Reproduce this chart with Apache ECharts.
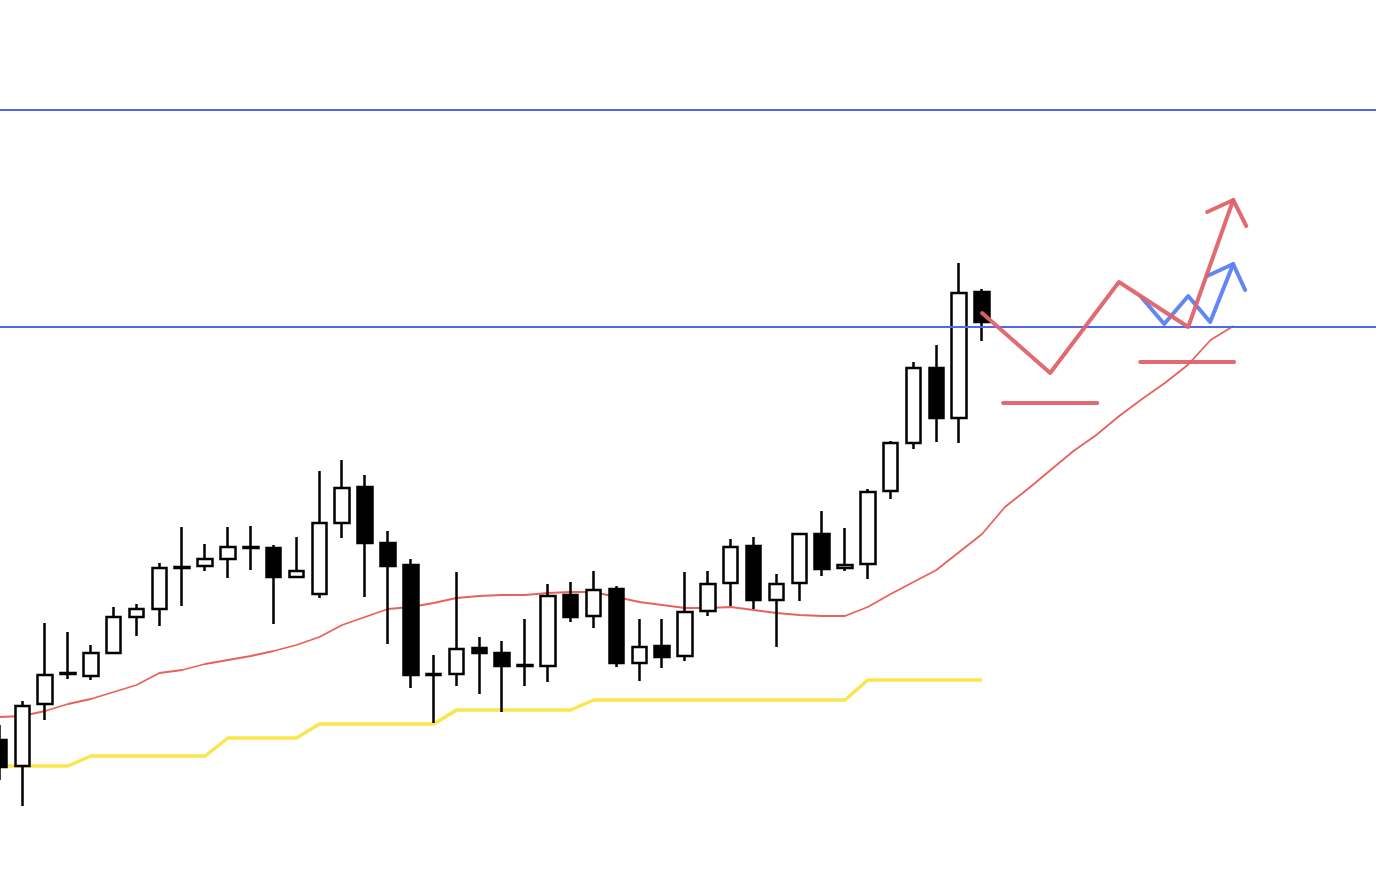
<!DOCTYPE html>
<html>
<head>
<meta charset="utf-8">
<script src="https://cdn.jsdelivr.net/npm/echarts@6/dist/echarts.min.js"></script>
<style>
html,body{margin:0;padding:0;background:#ffffff;overflow:hidden;width:1376px;height:880px;position:relative;}
#chart{position:absolute;top:0;left:-12.4px;width:1394.3px;height:880px;}
</style>
</head>
<body>
<div id="chart"></div>
<script>
// ---- DATA ----
// candles: [open, close, low, high]
const candles = [
  [151.40,151.13,151.00,151.55],
  [151.14,151.74,150.74,151.79],
  [151.76,152.05,151.60,152.57],
  [152.06,152.07,152.01,152.48],
  [152.04,152.27,152.00,152.35],
  [152.27,152.63,152.26,152.73],
  [152.63,152.71,152.44,152.76],
  [152.71,153.12,152.54,153.17],
  [153.12,153.13,152.74,153.53],
  [153.14,153.21,153.09,153.36],
  [153.21,153.33,153.02,153.53],
  [153.32,153.33,153.10,153.54],
  [153.32,153.03,152.56,153.35],
  [153.03,153.09,153.02,153.43],
  [152.86,153.57,152.82,154.09],
  [153.57,153.92,153.42,154.20],
  [153.93,153.37,152.83,154.05],
  [153.37,153.14,152.36,153.49],
  [153.15,152.05,151.92,153.21],
  [152.05,152.06,151.57,152.25],
  [152.06,152.31,151.94,153.08],
  [152.32,152.27,151.86,152.43],
  [152.27,152.14,151.68,152.39],
  [152.14,152.15,151.94,152.61],
  [152.14,152.84,151.98,152.96],
  [152.85,152.63,152.58,152.98],
  [152.64,152.90,152.52,153.09],
  [152.91,152.17,152.13,152.94],
  [152.17,152.33,151.99,152.61],
  [152.34,152.23,152.12,152.61],
  [152.24,152.68,152.19,153.08],
  [152.69,152.96,152.64,153.09],
  [152.97,153.33,152.74,153.41],
  [153.34,152.80,152.71,153.43],
  [152.80,152.96,152.33,153.06],
  [152.97,153.46,152.79,153.47],
  [153.46,153.11,153.04,153.69],
  [153.12,153.15,153.09,153.52],
  [153.16,153.88,153.01,153.91],
  [153.89,154.37,153.81,154.39],
  [154.37,155.12,154.31,155.18],
  [155.12,154.62,154.38,155.35],
  [154.62,155.87,154.37,156.17],
  [155.88,155.58,155.39,155.91]
];
// moving average (red thin), continues past last candle
const maLine = [
  151.63,151.64,151.69,151.76,151.81,151.88,151.95,152.07,152.10,152.16,
  152.20,152.24,152.29,152.35,152.43,152.55,152.63,152.71,152.73,152.77,
  152.82,152.84,152.85,152.85,152.87,152.88,152.88,152.83,152.78,152.75,
  152.72,152.72,152.73,152.70,152.67,152.65,152.64,152.64,152.73,152.86,
  152.98,153.10,153.28,153.46,
  153.73,153.91,154.10,154.29,154.45,154.64,154.81,154.97,155.15,155.40,155.54
];
// yellow step line
const yellowLine = [
  151.14,151.14,151.14,151.14,151.24,151.24,151.24,151.24,151.24,151.24,
  151.42,151.42,151.42,151.42,151.56,151.56,151.56,151.56,151.56,151.56,
  151.70,151.70,151.70,151.70,151.70,151.70,151.80,151.80,151.80,151.80,
  151.80,151.80,151.80,151.80,151.80,151.80,151.80,151.80,152.00,152.00,
  152.00,152.00,152.00,152.00
];
// horizontal levels (blue)
const levels = [157.70, 155.53];
// scenario paths: [bar index, price]
const redPath = [[43.0,155.67],[45.98,155.07],[48.99,155.98],[52.02,155.53],[53.99,156.80]];
const redArrow = [[52.85,156.68],[53.99,156.80],[54.56,156.54]];
const redLevelA = [[43.92,154.77],[48.04,154.77]];
const redLevelB = [[49.92,155.18],[54.03,155.18]];
const bluePath = [[49.96,155.83],[50.97,155.56],[52.02,155.84],[52.98,155.58],[53.99,156.16]];
const blueArrow = [[52.85,156.04],[53.99,156.16],[54.51,155.90]];
const barCount = 61;
const categories = Array.from({length: barCount}, (_, i) => String(i + 1));

// ---- CHART ----
const chart = echarts.init(document.getElementById('chart'), null, {renderer: 'canvas'});
const redC = '#e0626a';
const blueC = '#5b80f4';
function seg(data, color, z) {
  return {
    type: 'line', xAxisIndex: 1, yAxisIndex: 0, data: data, symbol: 'none',
    silent: true, animation: false, z: z,
    lineStyle: {color: color, width: 4, cap: 'round', join: 'round', opacity: 0.95}
  };
}
chart.setOption({
  animation: false,
  backgroundColor: '#ffffff',
  grid: {left: 0, top: 0, right: 0, bottom: 0, containLabel: false},
  xAxis: [
    {type: 'category', data: categories, boundaryGap: true, show: false},
    {type: 'value', min: -0.5, max: barCount - 0.5, show: false}
  ],
  yAxis: [{type: 'value', min: 150, max: 158.8, show: false, scale: true}],
  series: [
    {
      type: 'line', data: yellowLine, symbol: 'none', z: 1, silent: true,
      lineStyle: {color: '#f9e54e', width: 3.5}
    },
    {
      type: 'line', data: maLine, symbol: 'none', z: 1, silent: true,
      lineStyle: {color: '#e9625a', width: 1.8}
    },
    {
      type: 'candlestick', data: candles, barWidth: 15, z: 3,
      itemStyle: {color: '#ffffff', color0: '#000000', borderColor: '#000000', borderColor0: '#000000', borderWidth: 2.5}
    },
    {
      type: 'line', xAxisIndex: 1, data: [], symbol: 'none', z: 4, silent: true,
      markLine: {
        silent: true, symbol: ['none', 'none'], label: {show: false},
        lineStyle: {color: '#4a68f2', width: 2, type: 'solid'},
        data: levels.map(v => ({yAxis: v}))
      }
    },
    seg(bluePath, blueC, 5),
    seg(blueArrow, blueC, 5),
    seg(redLevelA, redC, 6),
    seg(redLevelB, redC, 6),
    seg(redPath, redC, 6),
    seg(redArrow, redC, 6)
  ]
});
</script>
</body>
</html>
